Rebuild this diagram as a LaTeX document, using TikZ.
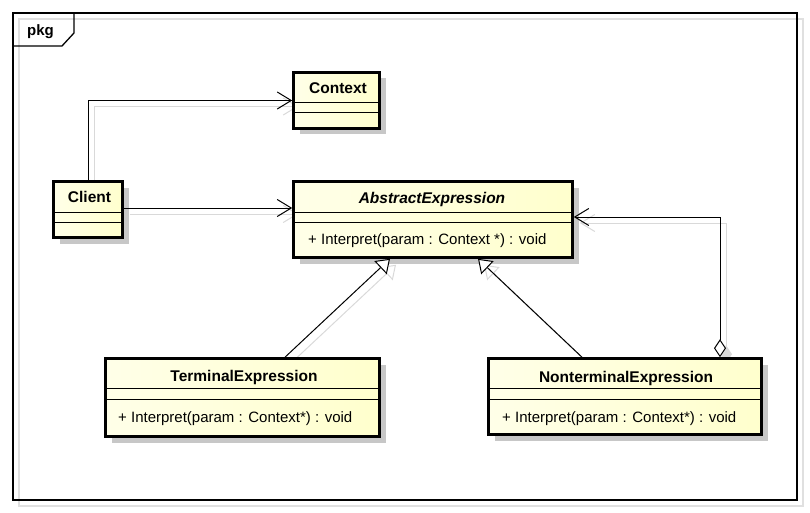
\documentclass[tikz,border=0pt]{standalone}
\usepackage{fontspec}
\setmainfont{Liberation Sans}
\usetikzlibrary{arrows.meta,shadows,backgrounds}
\definecolor{fillL}{RGB}{255,255,232}
\definecolor{fillR}{RGB}{255,255,205}
\tikzset{
  cls/.style={draw=black, line width=2.6pt, rectangle, inner sep=0pt,
    left color=fillL, right color=fillR,
    drop shadow={shadow xshift=6pt, shadow yshift=-6pt, fill=black!22, opacity=1}},
  comp/.style={line width=1pt},
  nm/.style={font=\bfseries\fontsize{15.5}{18}\selectfont, anchor=base, inner sep=0pt},
  mth/.style={font=\fontsize{15}{18}\selectfont, anchor=base west, inner sep=0pt},
  assoc/.style={line width=1pt, -{Straight Barb[length=14pt,width=17pt,line width=1pt]}},
  gen/.style={line width=1pt, -{Triangle[fill=white,length=13pt,width=18pt,line width=1pt]}},
  agg/.style={line width=1pt, {Diamond[fill=white,length=18pt,width=12pt,line width=1pt]}-{Straight Barb[length=14pt,width=17pt,line width=1pt]}},
  aggsh/.style={line width=1pt, draw=black!15, {Diamond[fill=black!15,length=18pt,width=12pt]}-{Straight Barb[length=14pt,width=17pt,line width=1pt]}},
  shline/.style={draw=black!15},
}
\begin{document}
\begin{tikzpicture}[x=1pt,y=-1pt]
\useasboundingbox (0,0) rectangle (810,513);
% frame
\draw[black!12, line width=1.2pt] (19,19) rectangle (803,506);
\draw[line width=1.3pt] (13,13) rectangle (797,500);
\draw[line width=1.3pt] (13,46) -- (62,46) -- (74,33) -- (74,13);
\node[font=\bfseries\fontsize{15}{18}\selectfont, anchor=base west, inner sep=0pt] (pkg) at (27,35.5) {pkg};

% classes
\node[cls, minimum width=86pt, minimum height=56pt] (ctx) at (336.5,100.5) {};
\node[cls, minimum width=69pt, minimum height=56pt] (client) at (88,209.5) {};
\node[cls, minimum width=279pt, minimum height=76pt] (abs) at (433,219.5) {};
\node[cls, minimum width=274pt, minimum height=78pt] (term) at (242.5,397.5) {};
\node[cls, minimum width=273pt, minimum height=76pt] (nt) at (625,396.5) {};

% compartments
\draw[comp] (ctx.west |- 0,103) -- (ctx.east |- 0,103);
\draw[comp] (ctx.west |- 0,113) -- (ctx.east |- 0,113);
\draw[comp] (client.west |- 0,212) -- (client.east |- 0,212);
\draw[comp] (client.west |- 0,222) -- (client.east |- 0,222);
\draw[comp] (abs.west |- 0,212) -- (abs.east |- 0,212);
\draw[comp] (abs.west |- 0,222) -- (abs.east |- 0,222);
\draw[comp] (term.west |- 0,388) -- (term.east |- 0,388);
\draw[comp] (term.west |- 0,399) -- (term.east |- 0,399);
\draw[comp] (nt.west |- 0,388) -- (nt.east |- 0,388);
\draw[comp] (nt.west |- 0,399) -- (nt.east |- 0,399);

% texts
\node[nm] (ctxn) at (338,94) {Context};
\node[nm] (clientn) at (89.5,202) {Client};
\node[nm, font=\bfseries\itshape\fontsize{15.5}{18}\selectfont] (absn) at (432,203) {AbstractExpression};
\node[mth] (absm) at (308,244) {+ Interpret(param : Context *) : void};
\node[nm] (termn) at (244,381) {TerminalExpression};
\node[mth] (termm) at (118,422) {+ Interpret(param : Context*) : void};
\node[nm] (ntn) at (626,382) {NonterminalExpression};
\node[mth] (ntm) at (502,422) {+ Interpret(param : Context*) : void};

% connector shadows
\begin{pgfonlayer}{background}
\begin{scope}[transform canvas={shift={(6pt,-6pt)}}]
\draw[assoc, shline] (client.north) |- (ctx.west);
\draw[assoc, shline] ([yshift=1.5pt]client.east) -- ([yshift=1.5pt]client.east -| abs.west);
\draw[gen, shline] ([xshift=42.5pt]term.north) -- ([xshift=-43pt]abs.south);
\draw[gen, shline] ([xshift=-43pt]nt.north) -- ([xshift=45pt]abs.south);
\draw[aggsh] ([xshift=95pt]nt.north) |- ([yshift=2.5pt]abs.east);
\end{scope}
\end{pgfonlayer}

% connectors
\draw[assoc] (client.north) |- (ctx.west);
\draw[assoc] ([yshift=1.5pt]client.east) -- ([yshift=1.5pt]client.east -| abs.west);
\draw[gen] ([xshift=42.5pt]term.north) -- ([xshift=-43pt]abs.south);
\draw[gen] ([xshift=-43pt]nt.north) -- ([xshift=45pt]abs.south);
\draw[agg] ([xshift=95pt]nt.north) |- ([yshift=2.5pt]abs.east);
\end{tikzpicture}
\end{document}
